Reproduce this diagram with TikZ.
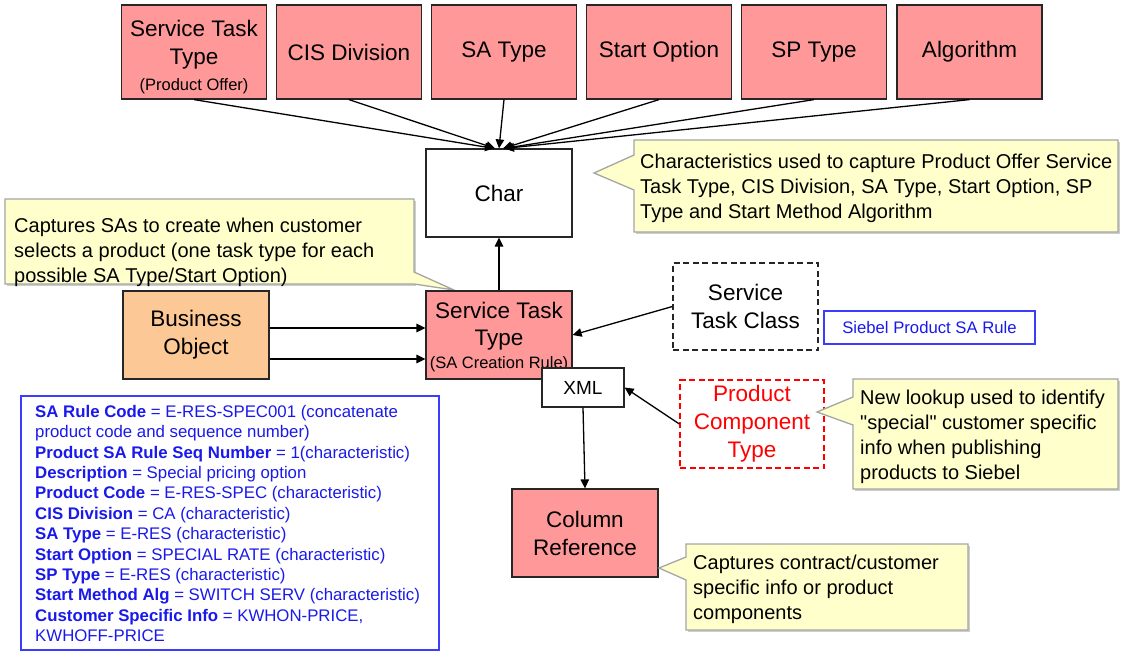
\documentclass[tikz,border=0pt]{standalone}
\usepackage{fontspec}
\setmainfont{Liberation Sans}
\newfontfamily\rawfont{Liberation Sans}
\usetikzlibrary{arrows.meta}
\definecolor{boxred}{RGB}{255,153,153}
\definecolor{boxorange}{RGB}{252,200,150}
\definecolor{noteyellow}{RGB}{255,255,204}
\definecolor{notegray}{RGB}{165,165,165}
\definecolor{shadowgray}{RGB}{205,205,205}
\definecolor{txtblue}{RGB}{25,25,235}
\definecolor{edgeblue}{RGB}{60,60,255}
\newcommand\smalltxt{\fontsize{16.5}{20}\selectfont}
\newcommand\straightquote{{\rawfont"}}
\begin{document}
\begin{tikzpicture}[x=1pt,y=-1pt,
  box/.style={draw=black!85, line width=1.2pt, minimum width=145pt, minimum height=94pt,
    inner sep=0pt, align=center, font=\fontsize{22.5}{28}\selectfont},
  redbox/.style={box, fill=boxred},
  midbox/.style={box, minimum width=146pt, minimum height=88pt},
  arr/.style={-{Triangle[length=9pt,width=8.5pt]}, line width=1.3pt, black},
  note/.style={fill=noteyellow, draw=notegray, line width=1.3pt, line join=miter},
  noteshadow/.style={fill=shadowgray},
  notetext/.style={anchor=north west, inner sep=0pt, align=left, font=\fontsize{20}{25}\selectfont}
]
\useasboundingbox (0,0) rectangle (1124,653);

% top row
\node[redbox] (stto) at (194,52) {\rule{0pt}{27pt}Service Task\\[0pt]Type\\[-2pt]{\smalltxt (Product Offer)}};
\node[redbox] (cis)  at (349,52) {CIS Division};
\node[redbox] (sat)  at (504,52) {SA Type};
\node[redbox] (so)   at (659,52) {Start Option};
\node[redbox] (spt)  at (814,52) {SP Type};
\node[redbox] (alg)  at (969.5,52) {Algorithm};

% char
\node[midbox, fill=white] (char) at (499,193) {Char};

% notes (shadows then bodies)
\fill[noteshadow] (636,142) -- (1120,142) -- (1120,234) -- (636,234) -- cycle;
\draw[note] (634,140) -- (1118,140) -- (1118,232) -- (634,232) -- (634,190) -- (594,173) -- (634,155) -- cycle;
\node[notetext] (n1) at (640,154) {Characteristics used to capture Product Offer Service\\Task Type, CIS Division, SA Type, Start Option, SP\\Type and Start Method Algorithm};

\fill[noteshadow] (7,201) -- (416,201) -- (416,286) -- (7,286) -- cycle;
\draw[note] (5,199) -- (414,199) -- (414,272) -- (454,290) -- (414,284) -- (5,284) -- cycle;
\node[notetext] (n2) at (14,218) {Captures SAs to create when customer\\selects a product (one task type for each\\possible SA Type/Start Option)};

% middle row
\node[midbox, fill=boxorange] (bo) at (196,335) {Business\\Object};
\node[midbox, fill=boxred] (stt) at (499,335) {\rule{0pt}{21pt}Service Task\\[-1pt]Type\\[-5pt]{\smalltxt (SA Creation Rule)}};
\node[box, draw=black!85, dash pattern=on 6pt off 3.5pt, minimum width=145pt, minimum height=87pt] (stc) at (745.5,306.5) {Service\\Task Class};
\node[draw=edgeblue, line width=1.2pt, minimum width=211pt, minimum height=33pt, inner sep=0pt,
  text=txtblue, font=\fontsize{16.7}{20}\selectfont] (siebel) at (929.5,327.5) {Siebel Product SA Rule};

\node[draw=black!85, fill=white, line width=1.2pt, minimum width=82pt, minimum height=39pt, inner sep=0pt,
  font=\fontsize{19}{22}\selectfont] (xml) at (583,387.5) {XML};

\node[box, draw=red, text=red, dash pattern=on 6pt off 3.5pt, minimum width=144pt, minimum height=88pt] (pct) at (752,424) {Product\\Component\\Type};

\fill[noteshadow] (855,381) -- (1120,381) -- (1120,491) -- (855,491) -- cycle;
\draw[note] (853,379) -- (1118,379) -- (1118,489) -- (853,489) -- (853,425) -- (817,412) -- (853,397) -- cycle;
\node[notetext] (n3) at (860,390) {New lookup used to identify\\\straightquote special\straightquote{} customer specific\\info when publishing\\products to Siebel};

\node[midbox, fill=boxred] (colref) at (585,533) {Column\\Reference};

\fill[noteshadow] (688,546) -- (970,546) -- (970,632) -- (688,632) -- cycle;
\draw[note] (686,544) -- (968,544) -- (968,630) -- (686,630) -- (686,580) -- (659,568) -- (686,557) -- cycle;
\node[notetext] (n4) at (693,555) {Captures contract/customer\\specific info or product\\components};

% rules box
\node[draw=edgeblue, line width=1.3pt, minimum width=418pt, minimum height=254pt, inner sep=0pt] (rules) at (230,523) {};
\node[anchor=north west, inner sep=0pt, align=left, text=txtblue, font=\fontsize{16.8}{20.4}\selectfont] (rulestext) at (35,405)
{\textbf{SA Rule Code} = E-RES-SPEC001 (concatenate\\
product code and sequence number)\\
\textbf{Product SA Rule Seq Number} = 1(characteristic)\\
\textbf{Description} = Special pricing option\\
\textbf{Product Code} = E-RES-SPEC (characteristic)\\
\textbf{CIS Division} = CA (characteristic)\\
\textbf{SA Type} = E-RES (characteristic)\\
\textbf{Start Option} = SPECIAL RATE (characteristic)\\
\textbf{SP Type} = E-RES (characteristic)\\
\textbf{Start Method Alg} = SWITCH SERV (characteristic)\\
\textbf{Customer Specific Info} = KWHON-PRICE,\\
KWHOFF-PRICE};

% connectors
\draw[arr] (stto.south) -- ([xshift=-5pt]char.north);
\draw[arr] (cis.south) -- ([xshift=-4pt]char.north);
\draw[arr] (sat.south) -- (char.north);
\draw[arr] (so.south) -- ([xshift=4pt]char.north);
\draw[arr] (spt.south) -- ([xshift=5pt]char.north);
\draw[arr] (alg.south) -- ([xshift=6pt]char.north);
\draw[arr] (stt.north) -- (char.south);
\draw[arr] ([yshift=7pt]bo.east) -- ([yshift=7pt]stt.west);
\draw[arr] ([yshift=-24pt]bo.east) -- ([yshift=-24pt]stt.west);
\draw[arr] (stc.west) -- (stt.east);
\draw[arr] (pct.west) -- (xml.east);
\draw[arr] (xml.south) -- (colref.north);
\end{tikzpicture}
\end{document}
